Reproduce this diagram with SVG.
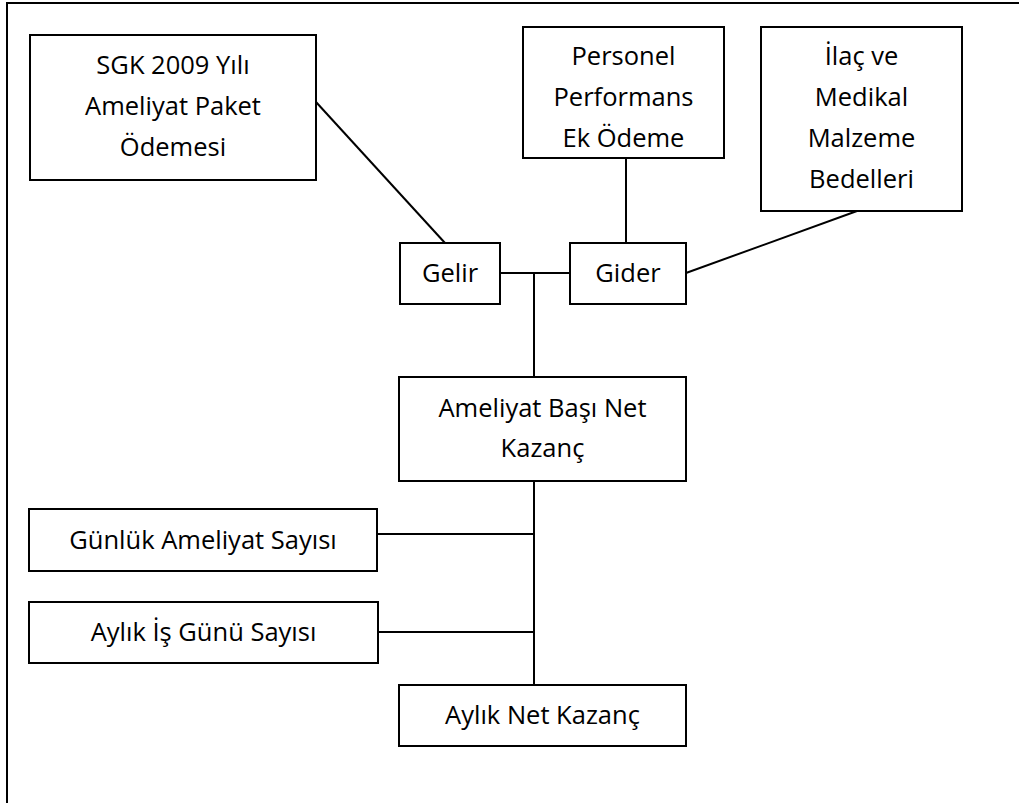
<svg xmlns="http://www.w3.org/2000/svg" width="1019" height="803" viewBox="0 0 1019 803">
<style>
.box{fill:#fff;stroke:#000;stroke-width:2}
.ln{fill:none;stroke:#000;stroke-width:2}
text{font-family:"Open Sans","Noto Sans",sans-serif;font-size:25.5px;fill:#000;text-anchor:middle}
</style>
<rect width="1019" height="803" fill="#fff"/>
<path class="ln" d="M7,803 V3 H1019"/>
<g id="connectors">
<line class="ln" x1="316" y1="102" x2="445" y2="243"/>
<line class="ln" x1="626" y1="157" x2="626" y2="243"/>
<line class="ln" x1="857" y1="211" x2="686" y2="273"/>
<line class="ln" x1="500" y1="273" x2="570" y2="273"/>
<line class="ln" x1="534" y1="273" x2="534" y2="377"/>
<line class="ln" x1="534" y1="481" x2="534" y2="685"/>
<line class="ln" x1="377" y1="534" x2="534" y2="534"/>
<line class="ln" x1="378" y1="632" x2="534" y2="632"/>
</g>
<g id="sgk">
<rect class="box" x="30" y="35" width="286" height="145"/>
<text x="173" y="74">SGK 2009 Yılı</text>
<text x="173" y="115">Ameliyat Paket</text>
<text x="173" y="156">Ödemesi</text>
</g>
<g id="personel">
<rect class="box" x="523" y="27" width="201" height="131"/>
<text x="623.5" y="65">Personel</text>
<text x="623.5" y="106">Performans</text>
<text x="623.5" y="147">Ek Ödeme</text>
</g>
<g id="ilac">
<rect class="box" x="761" y="27" width="201" height="184"/>
<text x="861.5" y="65">İlaç ve</text>
<text x="861.5" y="106">Medikal</text>
<text x="861.5" y="147">Malzeme</text>
<text x="861.5" y="188">Bedelleri</text>
</g>
<g id="gelir">
<rect class="box" x="400" y="243" width="100" height="61"/>
<text x="450" y="282">Gelir</text>
</g>
<g id="gider">
<rect class="box" x="570" y="243" width="116" height="61"/>
<text x="628" y="282">Gider</text>
</g>
<g id="ameliyat-basi">
<rect class="box" x="399" y="377" width="287" height="104"/>
<text x="542.5" y="417">Ameliyat Başı Net</text>
<text x="542.5" y="457">Kazanç</text>
</g>
<g id="gunluk">
<rect class="box" x="29" y="509" width="348" height="62"/>
<text x="203" y="549">Günlük Ameliyat Sayısı</text>
</g>
<g id="aylik-is">
<rect class="box" x="29" y="602" width="349" height="61"/>
<text x="203.5" y="641">Aylık İş Günü Sayısı</text>
</g>
<g id="aylik-net">
<rect class="box" x="399" y="685" width="287" height="61"/>
<text x="542.5" y="724">Aylık Net Kazanç</text>
</g>
</svg>
